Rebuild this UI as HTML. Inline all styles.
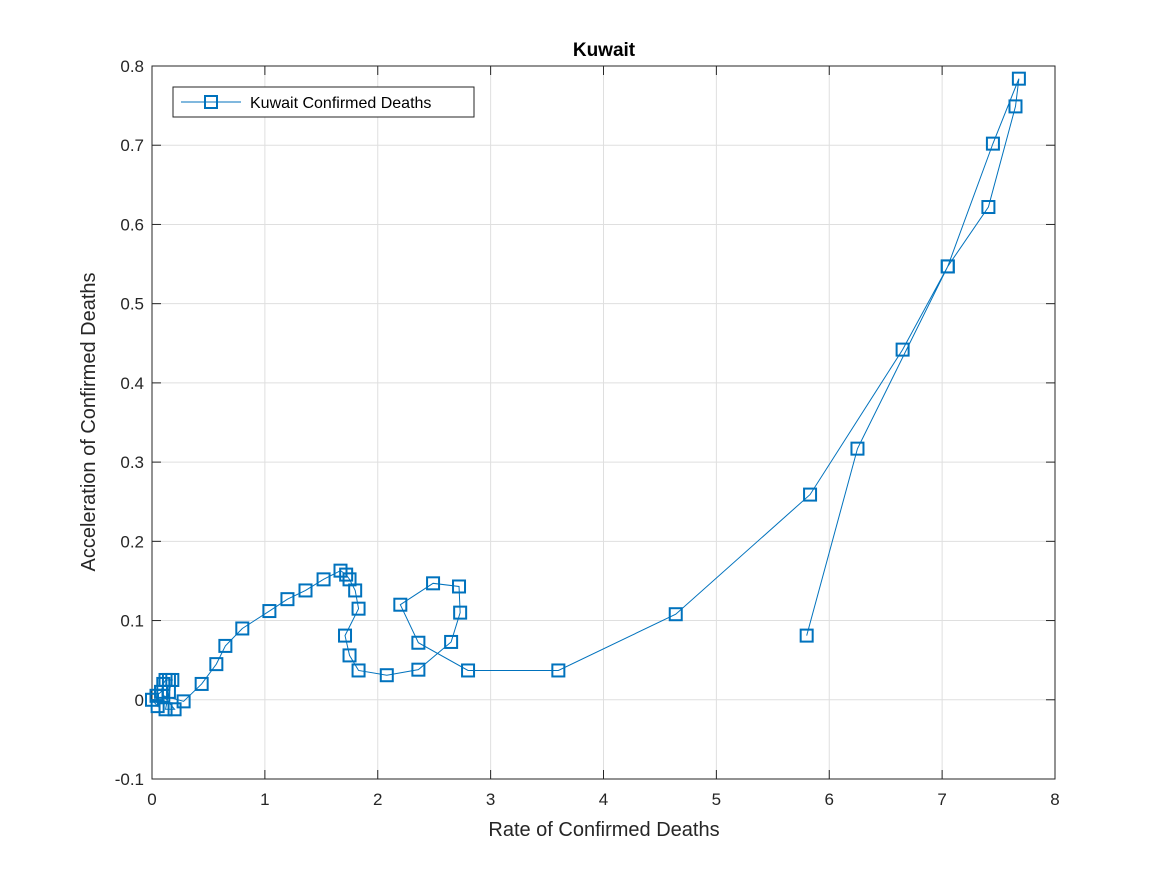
<!DOCTYPE html>
<html><head><meta charset="utf-8"><style>
body{margin:0;background:#fff}
svg{font-family:"Liberation Sans",sans-serif}
</style></head><body>
<svg id="c" width="1167" height="875">
<rect width="1167" height="875" fill="#fff"/>
<g id="grid"></g><g id="axes"></g><g id="series"></g>
<text x="604" y="56" text-anchor="middle" font-size="19" font-weight="bold" fill="#000">Kuwait</text>
<text x="604" y="836" text-anchor="middle" font-size="20" fill="#262626">Rate of Confirmed Deaths</text>
<text transform="translate(95,422) rotate(-90)" text-anchor="middle" font-size="20" fill="#262626">Acceleration of Confirmed Deaths</text>
<g>
<rect x="173" y="87" width="301" height="30" fill="#fff" stroke="#262626" stroke-width="1"/>
<line x1="181" y1="102" x2="241" y2="102" stroke="#0072bd" stroke-width="1"/>
<rect x="205" y="96" width="12" height="12" fill="none" stroke="#0072bd" stroke-width="2"/>
<text x="250" y="108" font-size="16" fill="#000">Kuwait Confirmed Deaths</text>
</g>
</svg>
<script>
const xVals=[0,0.05,0.04,0.08,0.1,0.12,0.15,0.18,0.15,0.12,0.2,0.1,0.28,0.44,0.57,0.65,0.8,1.04,1.2,1.36,1.52,1.67,1.72,1.75,1.8,1.83,1.71,1.75,1.83,2.08,2.36,2.65,2.73,2.72,2.49,2.2,2.36,2.8,3.6,4.64,5.83,6.65,7.05,7.45,7.68,7.65,7.41,7.05,6.25,5.8];
const yVals=[0,-0.008,0.005,0.01,0.02,0.025,0.025,0.025,0.01,-0.012,-0.012,0.005,-0.002,0.02,0.045,0.068,0.09,0.112,0.127,0.138,0.152,0.163,0.158,0.152,0.138,0.115,0.081,0.056,0.037,0.031,0.038,0.073,0.11,0.143,0.147,0.12,0.072,0.037,0.037,0.108,0.259,0.442,0.547,0.702,0.784,0.749,0.622,0.547,0.317,0.081];
const xTicks=[0,1,2,3,4,5,6,7,8];
const yTicks=[-0.1,0,0.1,0.2,0.3,0.4,0.5,0.6,0.7,0.8];
const yTickLabels=["-0.1","0","0.1","0.2","0.3","0.4","0.5","0.6","0.7","0.8"];
const L=152,R=1055,T=66,B=779;
const sx=v=>L+(v-0)/8*(R-L), sy=v=>B-(v+0.1)/0.9*(B-T);
const NS="http://www.w3.org/2000/svg";
function mk(t,a,p){const e=document.createElementNS(NS,t);for(const k in a)e.setAttribute(k,a[k]);p.appendChild(e);return e;}
const g=document.getElementById('grid'),ax=document.getElementById('axes'),s=document.getElementById('series');
xTicks.forEach(v=>{const x=sx(v);
const gl=mk('line',{x1:x,x2:x,y1:T,y2:B,stroke:'#dfdfdf','stroke-width':1},g);


mk('line',{x1:x,x2:x,y1:B,y2:B-9,stroke:'#262626'},ax);mk('line',{x1:x,x2:x,y1:T,y2:T+9,stroke:'#262626'},ax);
const t=mk('text',{x:x,y:B+26,'text-anchor':'middle','font-size':17,fill:'#262626'},ax);t.textContent=v;

});
yTicks.forEach((v,i)=>{const y=sy(v);
const gl=mk('line',{x1:L,x2:R,y1:y,y2:y,stroke:'#dfdfdf','stroke-width':1},g);


mk('line',{x1:L,x2:L+9,y1:y,y2:y,stroke:'#262626'},ax);mk('line',{x1:R,x2:R-9,y1:y,y2:y,stroke:'#262626'},ax);
const t=mk('text',{x:L-8,y:y+6,'text-anchor':'end','font-size':17,fill:'#262626'},ax);t.textContent=yTickLabels[i];

});
mk('rect',{x:L,y:T,width:R-L,height:B-T,fill:'none',stroke:'#262626','stroke-width':1},ax);
const pl=mk('polyline',{points:xVals.map((v,i)=>sx(v)+','+sy(yVals[i])).join(' '),fill:'none',stroke:'#0072bd','stroke-width':1},s);


xVals.forEach((v,i)=>{const m=mk('rect',{x:sx(v)-6,y:sy(yVals[i])-6,width:12,height:12,fill:'none',stroke:'#0072bd','stroke-width':2},s);

});
</script>
</body></html>
